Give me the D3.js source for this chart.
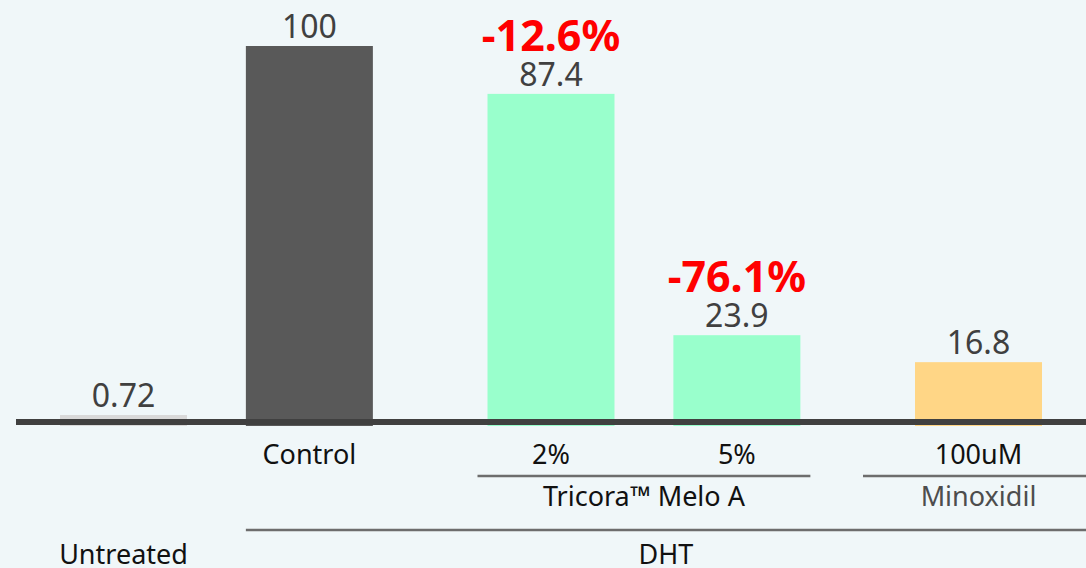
<!DOCTYPE html>
<html>
<head>
<meta charset="utf-8">
<script src="https://cdn.jsdelivr.net/npm/d3@7"></script>
<style>
  html, body { margin: 0; padding: 0; background: #f0f7f9; }
  svg { display: block; font-family: "Noto Sans", "DejaVu Sans", sans-serif; }
</style>
</head>
<body>
<div id="chart"></div>
<script>
// data
var doseLabels = ["", "Control", "2%", "5%", "100uM"];
var values = [0.72, 100, 87.4, 23.9, 16.8];
var changes = [null, null, "-12.6%", "-76.1%", null];
var subgroups = ["", "", "Tricora\u2122 Melo A", "Tricora\u2122 Melo A", "Minoxidil"];
var treatments = ["Untreated", "DHT", "DHT", "DHT", "DHT"];
var barColors = ["#d9d9d9", "#595959", "#99ffcc", "#99ffcc", "#ffd686"];

var width = 1086, height = 568;

var svg = d3.select("#chart")
  .append("svg")
    .attr("width", width)
    .attr("height", height);

svg.append("rect")
  .attr("width", width)
  .attr("height", height)
  .attr("fill", "#f0f7f9");

// slot positions: one unit per bar, extra gap where a new subgroup starts
var groupGap = 0.3;
var slots = [];
var extra = 0;
values.forEach(function(v, i) {
  if (i > 0 && subgroups[i] !== subgroups[i - 1] && subgroups[i] !== "") extra += groupGap;
  slots.push(i + extra);
});

var x = d3.scaleLinear()
  .domain([0, d3.max(slots)])
  .range([123.5, 978.5]);
var barW = 127;

var y = d3.scaleLinear()
  .domain([0, 100])
  .range([426, 46]);
var minBarPx = 11;

function barTop(v) { return Math.min(y(v), y(0) - minBarPx); }

// bars
svg.append("g")
  .selectAll("rect")
  .data(values)
  .enter().append("rect")
    .attr("x", function(d, i) { return x(slots[i]) - barW / 2; })
    .attr("y", function(d) { return barTop(d); })
    .attr("width", barW)
    .attr("height", function(d) { return y(0) - barTop(d); })
    .attr("fill", function(d, i) { return barColors[i]; });

// baseline
svg.append("line")
  .attr("x1", 16).attr("x2", width)
  .attr("y1", 422).attr("y2", 422)
  .attr("stroke", "#404040")
  .attr("stroke-width", 6);

// value labels
svg.append("g")
  .selectAll("text")
  .data(values)
  .enter().append("text")
    .attr("x", function(d, i) { return x(slots[i]); })
    .attr("y", function(d) { return barTop(d) - 8; })
    .attr("text-anchor", "middle")
    .attr("font-size", 32)
    .attr("fill", "#404040")
    .text(function(d) { return d; });

// percentage change labels
svg.append("g")
  .selectAll("text")
  .data(values)
  .enter().filter(function(d, i) { return changes[i] !== null; })
  .append("text")
    .attr("x", function(d) { return x(slots[values.indexOf(d)]); })
    .attr("y", function(d) { return barTop(d) - 43; })
    .attr("text-anchor", "middle")
    .attr("font-size", 43)
    .attr("font-weight", 700)
    .attr("fill", "#ff0000")
    .text(function(d) { return changes[values.indexOf(d)]; });

// dose / category labels
svg.append("g")
  .selectAll("text")
  .data(doseLabels)
  .enter().append("text")
    .attr("x", function(d, i) { return x(slots[i]); })
    .attr("y", 464)
    .attr("text-anchor", "middle")
    .attr("font-size", 27)
    .attr("font-weight", 400)
    .attr("fill", "#111")
    .text(function(d) { return d; });

// subgroup brackets
var subPad = { "Tricora\u2122 Melo A": 10, "Minoxidil": 52 };
var subNames = Array.from(new Set(subgroups.filter(function(s) { return s !== ""; })));
subNames.forEach(function(name) {
  var idx = subgroups.map(function(s, i) { return s === name ? i : -1; })
    .filter(function(i) { return i >= 0; });
  var x0 = x(slots[idx[0]]) - barW / 2 - subPad[name];
  var x1 = x(slots[idx[idx.length - 1]]) + barW / 2 + subPad[name];
  svg.append("line")
    .attr("x1", x0).attr("x2", x1)
    .attr("y1", 476).attr("y2", 476)
    .attr("stroke", "#6d6d6d")
    .attr("stroke-width", 2.5);
  svg.append("text")
    .attr("x", (x0 + x1) / 2)
    .attr("y", 506)
    .attr("text-anchor", "middle")
    .attr("font-size", 27)
    .attr("font-weight", 400)
    .attr("fill", name === "Minoxidil" ? "#4d4d4d" : "#111")
    .text(name);
});

// treatment row
var treatNames = Array.from(new Set(treatments));
treatNames.forEach(function(name) {
  var idx = treatments.map(function(s, i) { return s === name ? i : -1; })
    .filter(function(i) { return i >= 0; });
  var cx;
  if (idx.length > 1) {
    var x0 = x(slots[idx[0]]) - barW / 2;
    var x1 = width;
    svg.append("line")
      .attr("x1", x0).attr("x2", x1)
      .attr("y1", 530).attr("y2", 530)
      .attr("stroke", "#6d6d6d")
      .attr("stroke-width", 2.5);
    cx = (x0 + x1) / 2;
  } else {
    cx = x(slots[idx[0]]);
  }
  svg.append("text")
    .attr("x", cx)
    .attr("y", 564)
    .attr("text-anchor", "middle")
    .attr("font-size", 27)
    .attr("font-weight", 400)
    .attr("fill", "#111")
    .text(name);
});
</script>
</body>
</html>
